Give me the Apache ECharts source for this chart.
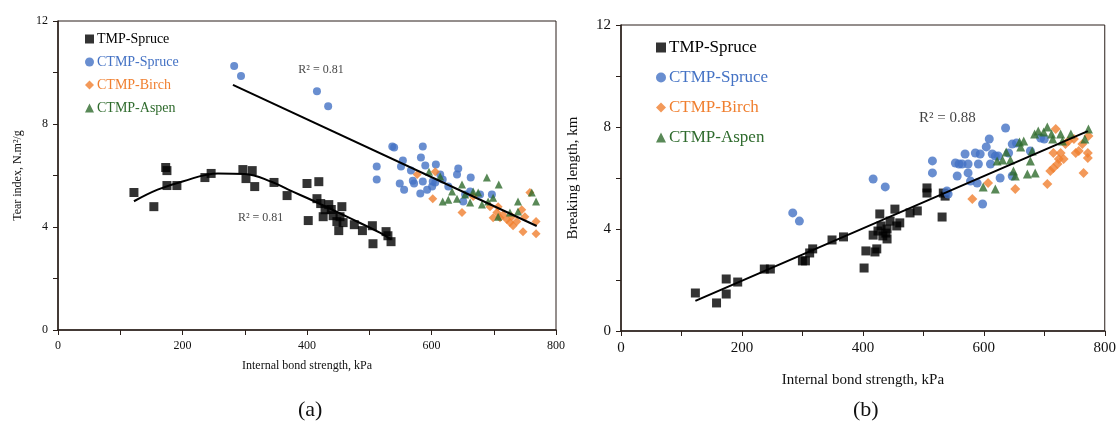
<!DOCTYPE html>
<html><head><meta charset="utf-8">
<script src="https://cdn.jsdelivr.net/npm/echarts@6/dist/echarts.min.js"></script>
<style>html,body{margin:0;padding:0;background:#fff}#c{width:1119px;height:429px}</style>
</head><body><div id="c"></div>
<script>
// ---------- DATA ----------
const seriesNames = ['TMP-Spruce','CTMP-Spruce','CTMP-Birch','CTMP-Aspen'];
// (a) Tear index vs internal bond strength
const tearTMP = [[122,5.34],[154,4.79],[173,6.31],[175,6.19],[175,5.61],[191,5.61],[236,5.92],[246,6.08],[297,6.23],[312,6.19],[302,5.88],[316,5.57],[347,5.73],[368,5.22],[400,5.69],[402,4.25],[419,5.76],[416,5.10],[422,4.91],[429,4.67],[426,4.40],[435,4.87],[439,4.68],[456,4.79],[453,4.40],[442,4.44],[448,4.21],[458,4.17],[451,3.86],[476,4.09],[489,3.86],[505,4.05],[506,3.35],[527,3.82],[530,3.66],[535,3.43]];
const tearCTMPSpruce = [[283,10.25],[294,9.86],[416,9.27],[434,8.69],[537,7.13],[540,7.09],[586,7.13],[512,6.35],[512,5.84],[551,6.35],[554,6.58],[549,5.69],[556,5.45],[567,6.19],[570,5.80],[572,5.69],[583,6.70],[582,5.30],[586,5.77],[590,6.39],[593,5.45],[601,5.57],[607,6.43],[606,5.73],[614,6.04],[618,5.84],[627,5.57],[643,6.27],[641,6.04],[651,4.99],[663,5.92],[662,5.38],[678,5.26],[697,5.26],[654,5.26],[602,5.77]];
const tearBirch = [[577,6.04],[606,6.15],[602,5.10],[649,4.56],[667,5.18],[694,4.79],[705,4.56],[710,4.36],[715,4.48],[721,4.29],[726,4.17],[729,4.40],[731,4.05],[737,4.21],[745,4.67],[747,3.82],[750,4.40],[758,5.34],[768,4.21],[768,3.74],[699,4.36],[707,4.79]];
const tearAspen = [[596,6.15],[614,5.96],[618,4.99],[627,5.06],[633,5.38],[649,5.65],[641,5.10],[654,5.26],[662,4.95],[667,5.38],[675,5.34],[681,4.87],[689,5.92],[691,4.99],[699,5.14],[708,5.65],[707,4.40],[726,4.56],[739,4.99],[739,4.60],[761,5.34],[768,4.99]];
const tearLinTrend = [[281,9.52],[769,4.04]];
const tearPolyTrend = [[122,5.0],[160,5.45],[200,5.77],[257,6.08],[300,6.06],[344,5.75],[370,5.45],[410,5.02],[464,4.40],[517,3.78],[535,3.52]];
// (b) Breaking length vs internal bond strength
const blTMP = [[123,1.49],[158,1.10],[174,2.04],[174,1.45],[193,1.92],[237,2.43],[247,2.43],[300,2.75],[305,2.75],[312,3.06],[317,3.22],[349,3.57],[368,3.69],[402,2.47],[405,3.14],[417,3.76],[420,3.10],[423,3.22],[425,3.92],[428,4.59],[430,4.12],[433,3.73],[438,3.84],[440,3.61],[440,4.00],[445,4.31],[453,4.78],[456,4.12],[461,4.24],[478,4.63],[490,4.71],[506,5.61],[506,5.41],[531,4.47],[533,5.41],[536,5.29]];
const blCTMPSpruce = [[284,4.63],[295,4.31],[417,5.96],[437,5.65],[515,6.67],[515,6.20],[539,5.49],[541,5.37],[553,6.59],[556,6.08],[559,6.55],[564,6.55],[569,6.94],[574,6.55],[574,6.20],[578,5.88],[586,6.98],[589,5.80],[591,6.55],[594,6.94],[598,4.98],[604,7.22],[609,7.53],[614,6.94],[611,6.55],[619,6.86],[624,6.86],[627,6.00],[636,7.96],[641,6.98],[647,7.33],[647,6.08],[654,7.37],[677,7.06],[694,7.57],[700,7.53]];
const blBirch = [[581,5.18],[607,5.80],[652,5.57],[705,5.76],[710,6.27],[715,6.39],[722,6.55],[724,6.75],[732,6.75],[727,6.98],[715,6.98],[735,7.33],[740,7.45],[719,7.92],[749,7.53],[752,6.98],[757,7.06],[763,7.33],[765,6.20],[772,6.98],[772,6.78],[773,7.65]];
const blAspen = [[599,5.65],[619,5.57],[622,6.67],[631,6.71],[637,7.02],[644,6.71],[649,6.27],[652,6.08],[659,7.41],[666,7.45],[661,7.22],[672,6.16],[677,6.67],[680,7.06],[685,6.20],[684,7.73],[690,7.84],[699,7.80],[705,8.00],[712,7.73],[714,7.53],[727,7.73],[730,7.45],[744,7.73],[767,7.53],[773,7.92]];
const blLinTrend = [[123,1.18],[772,7.84]];
// R² annotations: [x, y, text]
const r2Tear = [[386,10.12,'R² = 0.81'],[289,4.36,'R² = 0.81']];
const r2BL = [[493,8.35,'R² = 0.88']];
const xRange = [0,800], yRange = [0,12];

// ---------- STYLE ----------
const FONT = '"Liberation Serif","DejaVu Serif",serif';
const AX = '#2a1f1a';
const colors = {'TMP-Spruce':'#000000','CTMP-Spruce':'#4472C4','CTMP-Birch':'#F07F2F','CTMP-Aspen':'#2F6B2D'};
const symbols = {'TMP-Spruce':'rect','CTMP-Spruce':'circle','CTMP-Birch':'diamond','CTMP-Aspen':'triangle'};

function xAx(gi, fs, nfs, gap){
  return {type:'value',gridIndex:gi,min:xRange[0],max:xRange[1],interval:100,
    name:'Internal bond strength, kPa',nameLocation:'middle',nameGap:gap,
    nameTextStyle:{fontFamily:FONT,fontSize:nfs,color:'#111'},
    axisLine:{lineStyle:{color:AX,width:1.5}},axisTick:{length:5,lineStyle:{color:AX}},
    axisLabel:{fontFamily:FONT,fontSize:fs,color:'#111',margin:10,formatter:v=>v%200===0?v:''},
    splitLine:{show:false}};
}
function yAx(gi, name, fs, nfs, gap){
  return {type:'value',gridIndex:gi,min:yRange[0],max:yRange[1],interval:2,
    name:name,nameLocation:'middle',nameGap:gap,
    nameTextStyle:{fontFamily:FONT,fontSize:nfs,color:'#111'},
    axisLine:{lineStyle:{color:AX,width:1.5}},axisTick:{length:5,lineStyle:{color:AX}},
    axisLabel:{fontFamily:FONT,fontSize:fs,color:'#111',margin:10,formatter:v=>v%4===0?v:''},
    splitLine:{show:false}};
}
function sc(name, data, gi, size){
  return {type:'scatter',name:name,xAxisIndex:gi,yAxisIndex:gi,data:data,
    symbol:symbols[name],symbolSize:name==='CTMP-Birch'?size+1:size,
    itemStyle:{color:colors[name]},z:3};
}
function ln(data, gi, smooth){
  return {type:'line',xAxisIndex:gi,yAxisIndex:gi,data:data,smooth:smooth?0.4:false,
    showSymbol:false,symbol:'none',lineStyle:{color:'#000',width:2},z:5,silent:true};
}
function lbl(data, gi, fs){
  return {type:'scatter',xAxisIndex:gi,yAxisIndex:gi,symbolSize:0,silent:true,z:6,
    data:data.map(d=>({value:[d[0],d[1]],label:{formatter:d[2]}})),
    label:{show:true,position:'right',distance:0,fontFamily:FONT,fontSize:fs,color:'#111'}};
}
function legend(left, top, fs, gap, isz){
  return {orient:'vertical',left:left,top:top,itemGap:gap,itemWidth:isz,itemHeight:isz,
    data:seriesNames.map(n=>({name:n,icon:symbols[n],textStyle:{color:colors[n]}})),
    textStyle:{fontFamily:FONT,fontSize:fs,fontWeight:'normal',padding:[0,0,0,-2]}};
}

const chart = echarts.init(document.getElementById('c'));
chart.setOption({
  backgroundColor:'#fff',
  animation:false,
  title:[
    {text:'(a)',left:293,top:394,textStyle:{fontFamily:FONT,fontSize:22,fontWeight:'normal',color:'#111'}},
    {text:'(b)',left:848,top:394,textStyle:{fontFamily:FONT,fontSize:22,fontWeight:'normal',color:'#111'}}
  ],
  legend:[legend(80,27,14,9,9), legend(651,34,17,13,10)],
  grid:[
    {left:58,right:563,top:21,bottom:99,show:true,borderColor:AX,borderWidth:1,backgroundColor:'transparent'},
    {left:621,right:14,top:25,bottom:98,show:true,borderColor:AX,borderWidth:1,backgroundColor:'transparent'}
  ],
  xAxis:[xAx(0,12,12,30), xAx(1,15,15,42)],
  yAxis:[yAx(0,'Tear index, N.m²/g',12,12,34), yAx(1,'Breaking length, km',15,15,40)],
  series:[
    sc('TMP-Spruce',tearTMP,0,9), sc('CTMP-Spruce',tearCTMPSpruce,0,8), sc('CTMP-Birch',tearBirch,0,8), sc('CTMP-Aspen',tearAspen,0,8),
    ln(tearLinTrend,0,false), ln(tearPolyTrend,0,true), lbl(r2Tear,0,12),
    sc('TMP-Spruce',blTMP,1,9), sc('CTMP-Spruce',blCTMPSpruce,1,9), sc('CTMP-Birch',blBirch,1,9), sc('CTMP-Aspen',blAspen,1,9),
    ln(blLinTrend,1,false), lbl(r2BL,1,15)
  ]
});
</script></body></html>
